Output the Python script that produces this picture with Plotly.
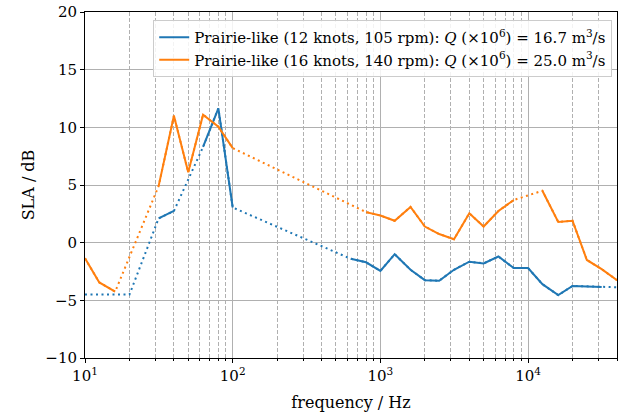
import plotly.graph_objects as go
import math

# Third-octave band centre frequencies (Hz)
freqs = [10, 12.5, 16, 20, 25, 31.5, 40, 50, 63, 80, 100, 125, 160, 200, 250, 315,
         400, 500, 630, 800, 1000, 1250, 1600, 2000, 2500, 3150, 4000, 5000, 6300,
         8000, 10000, 12500, 16000, 20000, 25000, 31500, 40000, 50000]

N = None
sla_12kn = [-4.5, N, N, -4.5, N, 2.1, 2.75, N, 8.3, 11.65, 3.05, N, N, N, N, N,
            N, N, -1.4, -1.7, -2.45, -1.0, -2.35, -3.25, -3.3, -2.35, -1.65, -1.8, -1.2,
            -2.2, -2.2, -3.6, -4.55, -3.75, -3.8, -3.85, N, -3.9]
sla_16kn = [-1.35, -3.45, -4.25, N, N, 4.9, 11.0, 6.1, 11.1, 10.05, 8.2, N, N, N, N, N,
            N, N, N, 2.65, 2.35, 1.9, 3.1, 1.4, 0.75, 0.3, 2.55, 1.4, 2.75,
            3.7, N, 4.5, 1.8, 1.9, -1.5, -2.3, -3.25, N]

names = ["Prairie-like (12 knots, 105 rpm): <i>Q</i> (×10<sup>6</sup>) = 16.7 m<sup>3</sup>/s",
         "Prairie-like (16 knots, 140 rpm): <i>Q</i> (×10<sup>6</sup>) = 25.0 m<sup>3</sup>/s"]
colors = ["#1f77b4", "#ff7f0e"]

xtick_vals = [10, 100, 1000, 10000]
xtick_text = ["10<sup>1</sup>", "10<sup>2</sup>", "10<sup>3</sup>", "10<sup>4</sup>"]
ytick_vals = [-10, -5, 0, 5, 10, 15, 20]
ytick_text = [("−" + str(-v)) if v < 0 else str(v) for v in ytick_vals]

FONT = "DejaVu Serif"

fig = go.Figure()
for ys, name, col in zip([sla_12kn, sla_16kn], names, colors):
    vx = [f for f, v in zip(freqs, ys) if v is not None]
    vy = [v for v in ys if v is not None]
    fig.add_trace(go.Scatter(x=vx, y=vy, mode="lines", showlegend=False,
                             line=dict(color=col, width=2, dash="2px,3.5px"),
                             hoverinfo="skip"))
for ys, name, col in zip([sla_12kn, sla_16kn], names, colors):
    fig.add_trace(go.Scatter(x=freqs, y=ys, mode="lines", name=name,
                             connectgaps=False, line=dict(color=col, width=2)))

fig.update_layout(
    width=618, height=414,
    margin=dict(l=85, r=1, t=12, b=56),
    paper_bgcolor="white", plot_bgcolor="white",
    font=dict(family=FONT, size=15, color="black"),
    legend=dict(x=0.991, y=0.977, xanchor="right", yanchor="top",
                bgcolor="rgba(255,255,255,0.85)", bordercolor="#cccccc", borderwidth=1,
                font=dict(family=FONT, size=15), tracegroupgap=0,
                itemwidth=30),
)
fig.update_xaxes(
    type="log", range=[1, math.log10(40000)],
    tickvals=xtick_vals, ticktext=xtick_text,
    ticks="outside", ticklen=4, tickcolor="black",
    showline=True, linecolor="black", linewidth=1, mirror=True,
    showgrid=True, gridcolor="#b0b0b0", gridwidth=1,
    minor=dict(dtick="D1", showgrid=True, gridcolor="#b0b0b0", griddash="4px,2px",
               gridwidth=1, ticks="outside", ticklen=2, tickcolor="black"),
    title=dict(text="frequency / Hz", font=dict(family=FONT, size=16), standoff=12),
    zeroline=False,
)
fig.update_yaxes(
    range=[-10, 20], tickvals=ytick_vals, ticktext=ytick_text,
    ticks="outside", ticklen=4, tickcolor="black",
    showline=True, linecolor="black", linewidth=1, mirror=True,
    showgrid=True, gridcolor="#b0b0b0", gridwidth=1,
    title=dict(text="SLA / dB", font=dict(family=FONT, size=16), standoff=6),
    zeroline=False,
)

fig.write_html("out.html")
